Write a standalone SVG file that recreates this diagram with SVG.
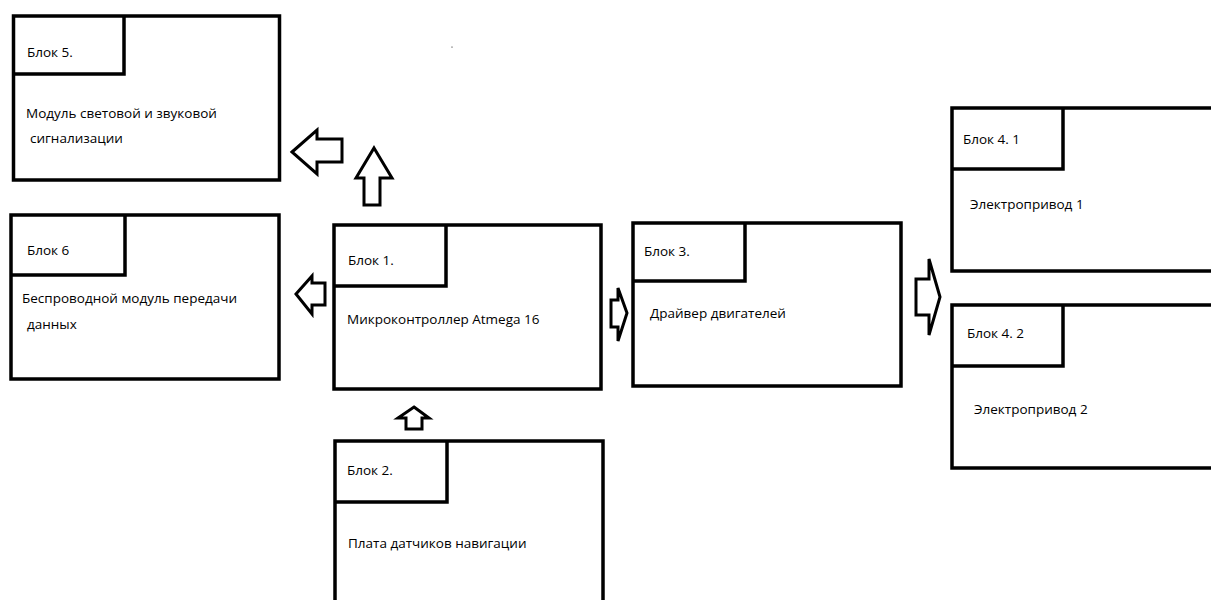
<svg xmlns="http://www.w3.org/2000/svg" width="1211" height="600" viewBox="0 0 1211 600">
<style>
.box{fill:#fff;stroke:#000;stroke-width:3.5}
.lbl{fill:none;stroke:#000;stroke-width:3.5}
.arr{fill:#fff;stroke:#000;stroke-width:3;stroke-linejoin:miter}
text{font-family:"Open Sans","Noto Sans",sans-serif;font-size:13.5px;fill:#000}
</style>
<rect width="1211" height="600" fill="#fff"/>
<g id="block5">
<rect class="box" x="13.5" y="16" width="266" height="164"/>
<path class="lbl" d="M13.5 74H124V16"/>
<text x="27" y="57">Блок 5.</text>
<text x="26" y="118">Модуль световой и звуковой</text>
<text x="30" y="143">сигнализации</text>
</g>
<g id="block6">
<rect class="box" x="11" y="215" width="268" height="164"/>
<path class="lbl" d="M11 275H125V215"/>
<text x="27" y="255">Блок 6</text>
<text x="22" y="303">Беспроводной модуль передачи</text>
<text x="27" y="329">данных</text>
</g>
<g id="block1">
<rect class="box" x="334" y="225" width="267" height="164"/>
<path class="lbl" d="M334 286H446V225"/>
<text x="348" y="265">Блок 1.</text>
<text x="347" y="324">Микроконтроллер Atmega 16</text>
</g>
<g id="block3">
<rect class="box" x="633" y="223" width="268" height="163"/>
<path class="lbl" d="M633 281H745V223"/>
<text x="644" y="256">Блок 3.</text>
<text x="650" y="318">Драйвер двигателей</text>
</g>
<g id="block41">
<rect class="box" x="952" y="108" width="270" height="163"/>
<path class="lbl" d="M952 169H1063V108"/>
<text x="963" y="144">Блок 4. 1</text>
<text x="970" y="209">Электропривод 1</text>
</g>
<g id="block42">
<rect class="box" x="952" y="305" width="270" height="163"/>
<path class="lbl" d="M952 366H1063V305"/>
<text x="967" y="338">Блок 4. 2</text>
<text x="974" y="414">Электропривод 2</text>
</g>
<g id="block2">
<rect class="box" x="335" y="441" width="268" height="170"/>
<path class="lbl" d="M335 502H447V441"/>
<text x="347" y="475">Блок 2.</text>
<text x="348" y="548">Плата датчиков навигации</text>
</g>
<g id="connectors">
<polygon class="arr" points="292,152 317,130 317,139 342,139 342,162 317,162 317,174"/>
<polygon class="arr" points="374,148 392,178 380,178 380,205 364,205 364,178 356,178"/>
<polygon class="arr" points="296,294 312,276 312,283 325,283 325,305 312,305 312,314"/>
<polygon class="arr" points="627,313 618,288 618,300 611,300 611,327 618,327 618,341"/>
<polygon class="arr" points="940,297 929,259 929,279 916,279 916,315 929,315 929,335"/>
<polygon class="arr" points="414,407 429,418 422,418 422,429 406,429 406,418 398,418"/>
<circle cx="452" cy="47" r="0.6" fill="#000"/>
</g>
</svg>
